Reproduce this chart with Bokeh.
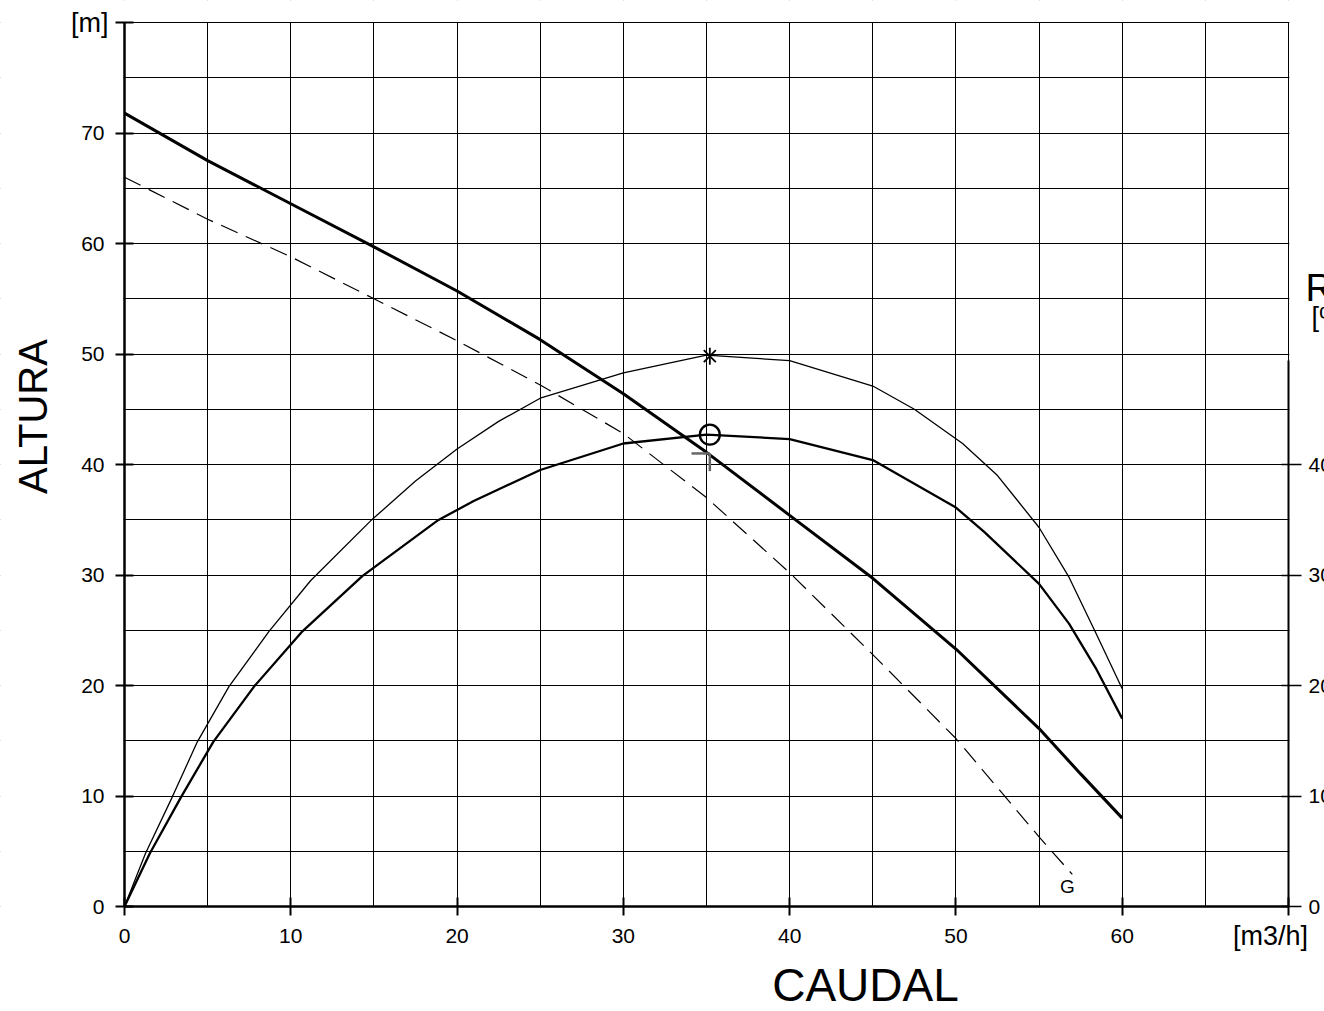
import math
from bokeh.plotting import figure
from bokeh.models import LinearAxis, FixedTicker, Range1d, BoxAnnotation
from bokeh.embed import file_html
from bokeh.resources import INLINE
from bokeh.core.properties import value

# ---------------- data ----------------
# Head curve H(Q)  [m]
q_head = [0, 5, 10, 15, 20, 25, 30, 35, 40, 45, 50, 55, 57.5, 60]
head = [71.8, 67.5, 63.6, 59.7, 55.7, 51.3, 46.4, 41.1, 35.4, 29.7, 23.3, 16.1, 12.0, 8.0]

# Dashed curve "G"
q_g = [0, 5, 10, 15, 20, 25, 30, 35, 40, 45, 50, 55, 57.0]
g_curve = [66.0, 62.2, 58.8, 55.0, 51.2, 47.2, 42.8, 37.0, 30.2, 22.8, 15.2, 6.3, 2.9]

# Efficiency curve (thin)  [%]
q_eff = [0, 1.26, 2.87, 4.38, 6.28, 8.69, 11.2, 14.8, 17.5, 20, 22.5, 25, 30, 35, 40, 45,
         47.5, 50.4, 52.5, 55, 56.8, 58.4, 60]
eff = [0, 4.8, 9.9, 14.9, 19.9, 24.9, 29.5, 34.9, 38.5, 41.4, 43.9, 46.0, 48.3, 49.9, 49.4,
       47.1, 45.0, 41.9, 39.0, 34.3, 29.8, 24.8, 19.7]

# Second curve (medium)
q_mid = [0, 1.52, 3.4, 5.34, 7.79, 10.7, 14.3, 18.8, 21.0, 25.0, 30, 35, 40, 45, 50,
         51.7, 55, 56.8, 58.4, 60]
mid = [0, 4.8, 9.9, 14.9, 19.9, 24.9, 29.9, 34.9, 36.7, 39.5, 41.9, 42.7, 42.3, 40.4, 36.1,
       33.9, 29.2, 25.6, 21.6, 17.0]

# Special points
bep_q = [35.2]
bep_eff = [49.8]
bep_mid = [42.7]
duty_q = 35.2
duty_h = 41.0
duty_dq = 1.1
duty_dh = 1.6

# Axes ticks and labels
x_ticks = [0, 10, 20, 30, 40, 50, 60, 70]
x_tick_labels = ["0", "10", "20", "30", "40", "50", "60"]
x_unit = "[m3/h]"
x_grid = [0, 5, 10, 15, 20, 25, 30, 35, 40, 45, 50, 55, 60, 65, 70]
y_ticks = [0, 10, 20, 30, 40, 50, 60, 70, 80]
y_tick_labels = ["0", "10", "20", "30", "40", "50", "60", "70"]
y_unit = "[m]"
y_grid = [0, 5, 10, 15, 20, 25, 30, 35, 40, 45, 50, 55, 60, 65, 70, 75, 80]
r_ticks = [0, 10, 20, 30, 40]
r_tick_labels = ["0", "10", "20", "30", "40"]
r_axis_top = 49.4
Q_MAX = 70
H_MAX = 80

FONT = "Liberation Sans"

# ---------------- layout: the frame fills the whole canvas ----------------
W, H = 1324, 1011
LEFT, BOTTOM, RIGHT_AT_70, TOP_AT_80 = 124, 906, 1288, 22
SX = (RIGHT_AT_70 - LEFT) / Q_MAX          # px per m3/h
SY = (BOTTOM - TOP_AT_80) / H_MAX          # px per m


def dx(px):
    return (px - LEFT) / SX


def dy(py):
    return (BOTTOM - py) / SY


p = figure(width=W, height=H, x_range=Range1d(dx(0), dx(W)), y_range=Range1d(dy(H), dy(0)),
           output_backend="svg", toolbar_location=None,
           min_border_left=0, min_border_right=0, min_border_top=0, min_border_bottom=0)
p.background_fill_color = "white"
p.border_fill_color = "white"
p.outline_line_color = None

# grid
p.xgrid.ticker = FixedTicker(ticks=x_grid)
p.ygrid.ticker = FixedTicker(ticks=y_grid)
for gr in (p.xgrid, p.ygrid):
    gr.grid_line_color = "black"
    gr.grid_line_width = 1
    gr.grid_line_alpha = 1.0

# grid lines only inside 0..70 x 0..80 (mask the margins)
eps = 0.05
far_l, far_r, far_b, far_t = dx(-60), dx(W + 60), dy(H + 60), dy(-60)
masks = [
    dict(left=Q_MAX + eps, right=far_r, bottom=far_b, top=far_t),
    dict(left=far_l, right=-eps, bottom=far_b, top=far_t),
    dict(left=far_l, right=far_r, bottom=H_MAX + eps, top=far_t),
    dict(left=far_l, right=far_r, bottom=far_b, top=-eps),
]
for kw in masks:
    p.add_layout(BoxAnnotation(fill_color="white", fill_alpha=1.0, line_color=None,
                               level="underlay", **kw))


def style_axis(ax, ticks, inward, outward, lw, axis_lw):
    # ticks are drawn as minor ticks so the axis carries no label texts
    ax.ticker = FixedTicker(ticks=[], minor_ticks=ticks)
    ax.major_tick_in = 0
    ax.major_tick_out = 0
    ax.minor_tick_in = inward
    ax.minor_tick_out = outward
    ax.minor_tick_line_width = lw
    ax.minor_tick_line_color = "black"
    ax.axis_line_width = axis_lw
    ax.axis_line_color = "black"
    ax.major_label_standoff = 0


# bottom axis (Q)
xa = p.xaxis[0]
style_axis(xa, x_ticks, 9, 9, 2, 2.5)
xa.bounds = (0, Q_MAX)
xa.fixed_location = 0

# left axis (H)
ya = p.yaxis[0]
style_axis(ya, y_ticks, 9, 9, 2, 2.5)
ya.bounds = (0, H_MAX)
ya.fixed_location = 0

# right axis (efficiency) drawn at Q = 70
ra = LinearAxis()
style_axis(ra, r_ticks, 7, 13, 1.5, 2)
ra.bounds = (0, r_axis_top)
ra.fixed_location = Q_MAX
p.add_layout(ra, "right")

# tick labels
TXT = dict(text_font=value(FONT), text_color="black")
p.text(x=dx(104), y=y_ticks[:len(y_tick_labels)], text=y_tick_labels, text_font_size="21px",
       text_align="right", text_baseline="middle", **TXT)
p.text(x=[dx(108)], y=[H_MAX], text=[y_unit], text_font_size="27px",
       text_align="right", text_baseline="middle", **TXT)
p.text(x=x_ticks[:len(x_tick_labels)], y=dy(935.5), text=x_tick_labels, text_font_size="21px",
       text_align="center", text_baseline="middle", **TXT)
p.text(x=[dx(1270)], y=[dy(935)], text=[x_unit], text_font_size="27px",
       text_align="center", text_baseline="middle", **TXT)
p.text(x=dx(1308), y=r_ticks, text=r_tick_labels, text_font_size="21px",
       text_align="left", text_baseline="middle", **TXT)

# axis titles
p.text(x=[dx(32)], y=[dy(416)], text=["ALTURA"], angle=math.pi / 2, text_font_size="40px",
       text_align="center", text_baseline="middle", **TXT)
p.text(x=[dx(865)], y=[dy(984)], text=["CAUDAL"], text_font_size="46px",
       text_align="center", text_baseline="middle", **TXT)
p.text(x=[dx(1305)], y=[dy(287.7)], text=["R"], text_font_size="38px",
       text_align="left", text_baseline="alphabetic", **TXT)
p.text(x=[dx(1311)], y=[dy(316)], text=["[%"], text_font_size="27px",
       text_align="left", text_baseline="middle", **TXT)

# curves
p.line(q_head, head, line_width=3, color="black")
p.line(q_g, g_curve, line_width=1.2, line_dash="18 9", color="black")
p.line(q_eff, eff, line_width=1.3, color="black")
p.line(q_mid, mid, line_width=2.3, color="black")

# best efficiency point markers
p.scatter(x=bep_q, y=bep_eff, marker="x", size=17, line_color="black", line_width=1.8)
p.scatter(x=bep_q, y=bep_eff, marker="dash", angle=math.pi / 2, size=17,
          line_color="black", line_width=1.8)
p.scatter(x=bep_q, y=bep_mid, marker="circle", size=20, fill_color=None,
          line_color="black", line_width=2.3)
p.segment(x0=[duty_q - duty_dq, duty_q], y0=[duty_h, duty_h],
          x1=[duty_q, duty_q], y1=[duty_h, duty_h - duty_dh],
          line_color="#666666", line_width=2.5)

p.text(x=[dx(1067)], y=[dy(886)], text=["G"], text_font_size="19px",
       text_align="center", text_baseline="middle", **TXT)

open("out.html", "w").write(file_html(p, INLINE))
